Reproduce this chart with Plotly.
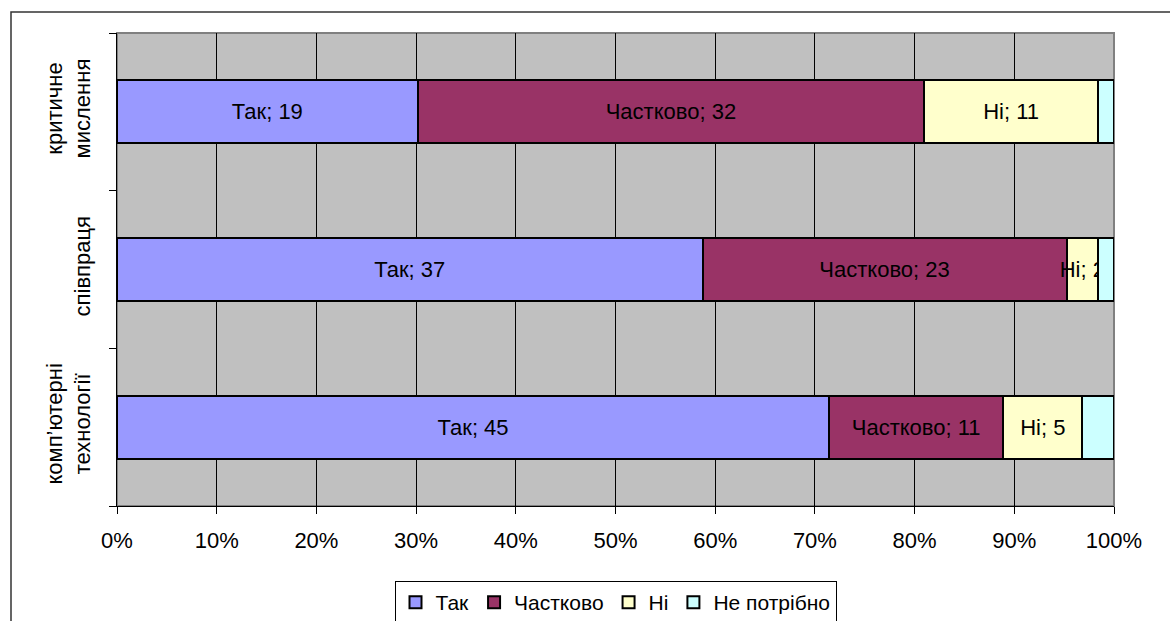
import plotly.graph_objects as go

categories = ["комп’ютерні<br>технології", "співпраця", "критичне<br>мислення"]
series_names = ["Так", "Частково", "Ні", "Не потрібно"]
tak = [45, 37, 19]
chastkovo = [11, 23, 32]
ni = [5, 2, 11]
ne_potribno = [2, 1, 1]
show_labels = [True, True, True, False]
colors = ["#9999FF", "#993366", "#FFFFCC", "#CCFFFF"]
x_ticks = list(range(0, 101, 10))

FONT = "Arial, 'Liberation Sans', sans-serif"
FS = 22

fig = go.Figure()
for name, vals, col, lab in zip(series_names, [tak, chastkovo, ni, ne_potribno], colors, show_labels):
    fig.add_trace(go.Bar(
        y=categories, x=vals, name=name, orientation="h",
        marker=dict(color=col, line=dict(color="black", width=2)),
        text=[f"{name}; {v}" if lab else "" for v in vals],
        textposition="inside", insidetextanchor="middle", textangle=0,
        insidetextfont=dict(color="black", size=FS, family=FONT),
        hoverinfo="skip",
    ))

L, R, T, B = 117, 56, 33, 115
W, H = 1170 - L - R, 621 - T - B

def px(x):
    return (x - L) / W

def py(y):
    return (621 - B - y) / H

fig.update_layout(
    width=1170, height=621,
    barmode="stack", barnorm="percent", bargap=0.6,
    paper_bgcolor="white", plot_bgcolor="#C0C0C0",
    margin=dict(l=L, r=R, t=T, b=B, pad=0, autoexpand=False),
    font=dict(family=FONT, size=FS, color="black"),
    uniformtext=dict(minsize=FS, mode="show"),
    legend=dict(orientation="h", x=0.5, xanchor="center", y=py(581), yanchor="top",
                bordercolor="black", borderwidth=1, bgcolor="white",
                traceorder="normal", font=dict(size=21), itemwidth=30,
                tracegroupgap=0),
    xaxis=dict(range=[0, 100], tickvals=x_ticks, ticktext=[f"{t}%" for t in x_ticks],
               showgrid=True, gridcolor="black", gridwidth=1,
               ticks="outside", ticklen=7, tickcolor="black",
               showline=True, linecolor="black", linewidth=1, zeroline=False,
               tickfont=dict(size=FS), ticklabelstandoff=8, automargin=False),
    yaxis=dict(type="category", tickangle=-90, tickson="boundaries",
               ticks="outside", ticklen=7, tickcolor="black",
               showgrid=False, showline=True, linecolor="black", linewidth=1,
               tickfont=dict(size=FS), ticklabelstandoff=17, automargin=False),
    shapes=[
        dict(type="rect", xref="paper", yref="paper", x0=0, x1=1, y0=0, y1=1,
             line=dict(color="#808080", width=2), layer="below"),
        dict(type="rect", xref="paper", yref="paper", x0=px(11), x1=px(1185),
             y0=py(640), y1=py(12), line=dict(color="#333333", width=1.5)),
    ],
)

fig.write_html("out.html", config={"displayModeBar": False},
               post_script="document.body.style.margin='0';document.body.style.overflow='hidden';")
